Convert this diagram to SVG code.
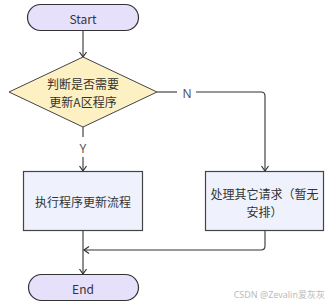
<svg xmlns="http://www.w3.org/2000/svg" width="329" height="306" viewBox="0 0 329 306">
<defs>
<marker id="arr" markerWidth="10" markerHeight="10" refX="8" refY="5" orient="auto" markerUnits="userSpaceOnUse">
<path d="M3,1.5 L8,5 L3,8.5" fill="none" stroke="#333" stroke-width="1.2"/>
</marker>
</defs>
<style>
.t{font-family:"Noto Sans CJK SC","Noto Sans",sans-serif;font-size:12px;fill:#333;text-anchor:middle;dominant-baseline:central}
.term{fill:#e6e0fb;stroke:#333;stroke-width:1.2}
.proc{fill:#eff2fc;stroke:#444;stroke-width:1.2}
.dec{fill:#fdf0c2;stroke:#444;stroke-width:1}
.c{fill:none;stroke:#333;stroke-width:1.1}
.lbl{font-family:"Noto Sans","Liberation Sans",sans-serif;font-size:12px;fill:#555;text-anchor:middle;dominant-baseline:central}
</style>
<rect width="329" height="306" fill="#fff"/>
<g id="connectors">
<line class="c" x1="83" y1="31" x2="83" y2="57" marker-end="url(#arr)"/>
<line class="c" x1="83" y1="127" x2="83" y2="137"/>
<line class="c" x1="83" y1="157" x2="83" y2="171" marker-end="url(#arr)"/>
<line class="c" x1="157" y1="92" x2="177" y2="92"/>
<path class="c" d="M196,92 H261 Q265,92 265,96 V171" marker-end="url(#arr)"/>
<path class="c" d="M265,231 V246 Q265,250 261,250 H84" marker-end="url(#arr)"/>
<line class="c" x1="83" y1="231" x2="83" y2="274" marker-end="url(#arr)"/>
<text class="lbl" x="187" y="93">N</text>
<text class="lbl" x="83" y="148">Y</text>
</g>
<g id="start">
<rect class="term" x="27.5" y="4.5" width="111" height="26" rx="13"/>
<text class="t" x="83" y="18">Start</text>
</g>
<g id="decision">
<polygon class="dec" points="83,57 157,92 83,127 9,92"/>
<text class="t" x="83" y="83">判断是否需要</text>
<text class="t" x="83" y="101">更新A区程序</text>
</g>
<g id="update">
<rect class="proc" x="23.5" y="171.5" width="119" height="59"/>
<text class="t" x="83" y="201">执行程序更新流程</text>
</g>
<g id="other">
<rect class="proc" x="205.5" y="171.5" width="118" height="59"/>
<text class="t" x="264.5" y="193">处理其它请求（暂无</text>
<text class="t" x="264.5" y="211">安排）</text>
</g>
<g id="end">
<rect class="term" x="28.5" y="274.5" width="110" height="26" rx="13"/>
<text class="t" x="83" y="288">End</text>
</g>
<text x="325" y="294" font-family="'Noto Sans','Noto Sans CJK SC',sans-serif" font-size="9" fill="#bbb" text-anchor="end" dominant-baseline="central">CSDN @Zevalin爱灰灰</text>
</svg>
